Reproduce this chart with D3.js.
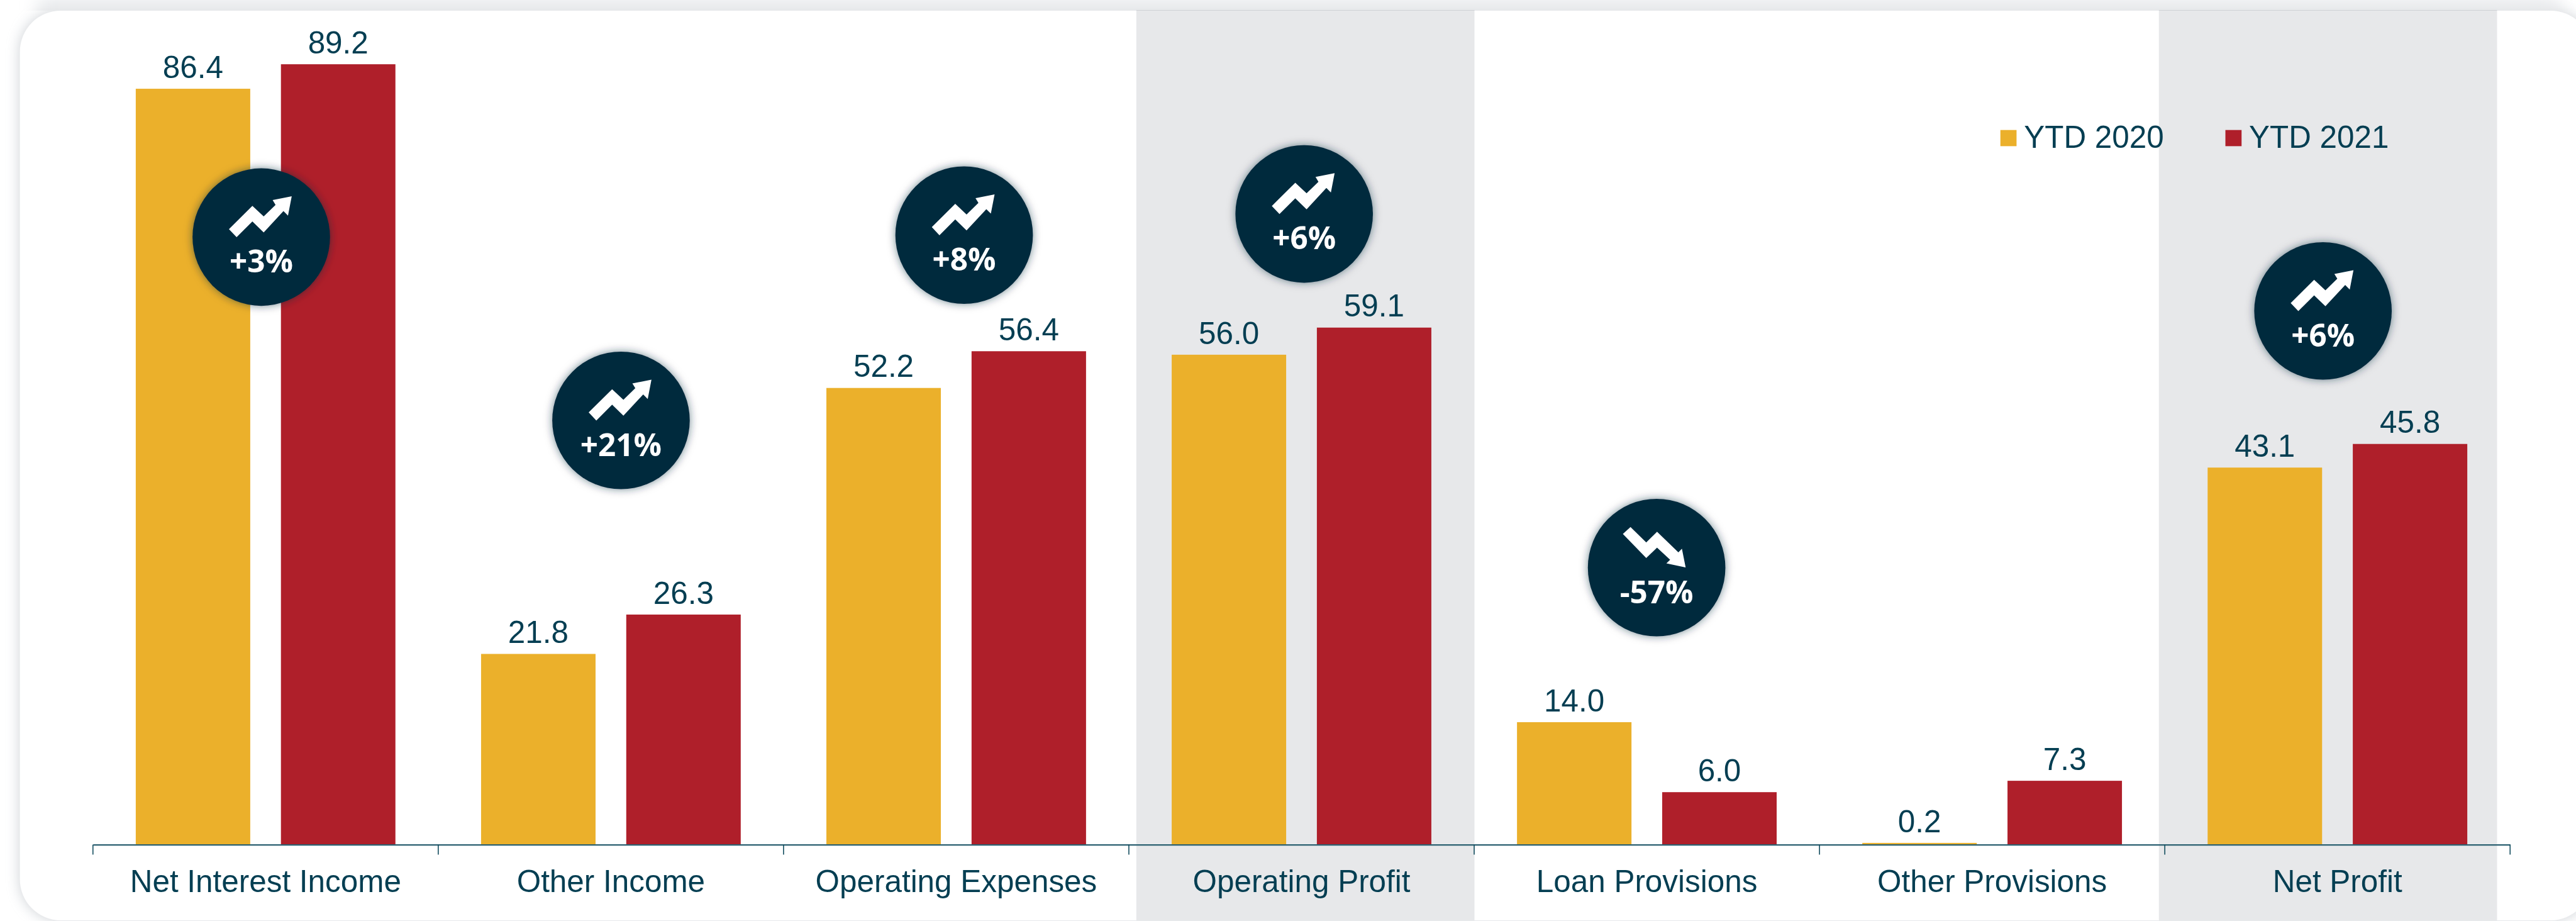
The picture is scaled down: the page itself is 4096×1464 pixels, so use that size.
<!DOCTYPE html>
<html>
<head>
<meta charset="utf-8">
<style>
html,body{margin:0;padding:0;background:#fff;overflow:hidden}
svg{display:block}
text{font-family:"Liberation Sans",Arial,sans-serif;fill:#043e52}
.pct{font-family:"Open Sans",sans-serif;font-weight:700;fill:#fff}
</style>
<script src="https://cdn.jsdelivr.net/npm/d3@7/dist/d3.min.js"></script>
</head>
<body>
<script>
const categories = ["Net Interest Income","Other Income","Operating Expenses","Operating Profit","Loan Provisions","Other Provisions","Net Profit"];
const seriesNames = ["YTD 2020","YTD 2021"];
const ytd2020 = [86.4,21.8,52.2,56.0,14.0,0.2,43.1];
const ytd2021 = [89.2,26.3,56.4,59.1,6.0,7.3,45.8];
const changeLabels = ["+3%","+21%","+8%","+6%","-57%",null,"+6%"];
const seriesColors = ["#ebb02b","#af1f2a"];

// Layout, in reference pixels (the viewBox scales everything to 0.988).
const W = 4144, H = 1481;
const axisY = 1358.3, pxPerUnit = 14.07, labelSize = 50;
const highlightBands = [[1828,2372],[3473,4017]];
const badgeCenters = [[420.3,381.2],[999,676],[1551,378],[2098,344],[2665,912.8],null,[3737,500]];
const upIcon = [[-52,-12.8],[-14.3,-50.2],[3.9,-33.2],[23,-51.8],[18.3,-59.5],[49,-65.5],[43,-34.5],[35.7,-41.8],[3.9,-7.5],[-14.3,-25.2],[-39.7,0.2]];
const downIcon = [[-54.3,-54.2],[-42,-65.2],[-16.7,-40.5],[0.7,-57.8],[35,-24.5],[40.7,-30.5],[46.7,-0.2],[15.7,-6.8],[21.7,-12.8],[0.7,-32.2],[-16.7,-15.5]];

const svg = d3.select("body").append("svg")
  .attr("width",4096).attr("height",1464)
  .attr("viewBox",`0 0 ${W} ${H}`);

const defs = svg.append("defs");
const cardF = defs.append("filter").attr("id","cardShadow")
  .attr("x","-5%").attr("y","-5%").attr("width","110%").attr("height","110%");
cardF.append("feDropShadow").attr("dx",0).attr("dy",0).attr("stdDeviation",11)
  .attr("flood-color","#cdd0d5").attr("flood-opacity",1);
const badgeF = defs.append("filter").attr("id","badgeShadow")
  .attr("x","-30%").attr("y","-30%").attr("width","160%").attr("height","160%");
badgeF.append("feDropShadow").attr("dx",0).attr("dy",0).attr("stdDeviation",7)
  .attr("flood-color","#0a2a3a").attr("flood-opacity",0.55);
const stripF = defs.append("filter").attr("id","stripFade").attr("filterUnits","userSpaceOnUse")
  .attr("x",0).attr("y",0).attr("width",W).attr("height",17);
stripF.append("feGaussianBlur").attr("stdDeviation","14 0");
const stripG = defs.append("linearGradient").attr("id","stripGrad").attr("x1",0).attr("x2",0).attr("y1",0).attr("y2",1);
stripG.append("stop").attr("offset",0).attr("stop-color","#f0f1f3");
stripG.append("stop").attr("offset",1).attr("stop-color","#e6e8ea");

// Card
svg.append("rect").attr("x",32).attr("y",17).attr("width",4137).attr("height",1463)
  .attr("rx",66).attr("ry",66).attr("fill","#fff").attr("filter","url(#cardShadow)");
svg.append("rect").attr("x",62).attr("y",0).attr("width",4055).attr("height",17)
  .attr("fill","url(#stripGrad)").attr("filter","url(#stripFade)");

// Highlight bands
svg.selectAll("rect.band").data(highlightBands).join("rect").attr("class","band")
  .attr("x",d=>d[0]).attr("width",d=>d[1]-d[0]).attr("y",16).attr("height",1464)
  .attr("fill","#e7e8ea").style("mix-blend-mode","multiply");

// Scales
const x0 = d3.scaleBand().domain(categories).range([149.5,4038]);
const x1 = d3.scaleBand().domain(seriesNames).range([0,x0.bandwidth()]).paddingInner(0.2115).paddingOuter(0.295);
const y = d3.scaleLinear().domain([0,100]).range([axisY,axisY-100*pxPerUnit]);
const color = d3.scaleOrdinal().domain(seriesNames).range(seriesColors);

const seriesValues = [ytd2020,ytd2021];
const rows = categories.flatMap((c,i)=>seriesNames.map((s,j)=>({c,s,v:seriesValues[j][i]})));

// Bars
svg.append("g").selectAll("rect").data(rows).join("rect")
  .attr("x",d=>x0(d.c)+x1(d.s)).attr("width",x1.bandwidth())
  .attr("y",d=>y(d.v)).attr("height",d=>y(0)-y(d.v))
  .attr("fill",d=>color(d.s));

// Value labels
svg.append("g").selectAll("text").data(rows).join("text")
  .attr("x",d=>x0(d.c)+x1(d.s)+x1.bandwidth()/2)
  .attr("y",d=>y(d.v)-17.5)
  .attr("text-anchor","middle").attr("font-size",labelSize)
  .text(d=>d.v.toFixed(1));

// Axis
const axis = svg.append("g").attr("transform",`translate(0,${axisY})`)
  .call(d3.axisBottom(x0).tickSize(0).tickSizeOuter(0));
axis.select(".domain").attr("stroke","#2c6172").attr("stroke-width",2.4);
axis.selectAll(".tick text")
  .attr("y",76.7).attr("dy",0)
  .attr("font-size",labelSize)
  .attr("fill","#043e52");
axis.attr("font-family",null).attr("font-size",null);
const bounds = d3.range(categories.length+1).map(i=>x0.range()[0]+i*x0.step());
axis.selectAll("line.boundary").data(bounds).join("line").attr("class","boundary")
  .attr("x1",d=>d).attr("x2",d=>d).attr("y1",0).attr("y2",16)
  .attr("stroke","#0f4a5c").attr("stroke-width",1.6);

// Legend
const legendX = [3218,3580];
const legend = svg.append("g").selectAll("g").data(seriesNames).join("g")
  .attr("transform",(d,i)=>`translate(${legendX[i]},209)`);
legend.append("rect").attr("width",26).attr("height",26).attr("fill",d=>color(d));
legend.append("text").attr("x",38).attr("y",29).attr("font-size",labelSize).text(d=>d);

// Change badges
const line = d3.line();
const badgeData = changeLabels.map((t,i)=>({t,p:badgeCenters[i]})).filter(d=>d.t);
const badge = svg.append("g").selectAll("g").data(badgeData).join("g")
  .attr("transform",d=>`translate(${d.p[0]},${d.p[1]})`);
badge.append("circle").attr("r",110.6).attr("fill","#062b3c").attr("filter","url(#badgeShadow)");
badge.append("path").attr("fill","#fff")
  .attr("d",d=>line(d.t[0]==="-"?downIcon:upIcon)+"Z");
badge.append("text").attr("class","pct").attr("text-anchor","middle")
  .attr("y",57).attr("font-size",50).text(d=>d.t);
</script>
</body>
</html>
